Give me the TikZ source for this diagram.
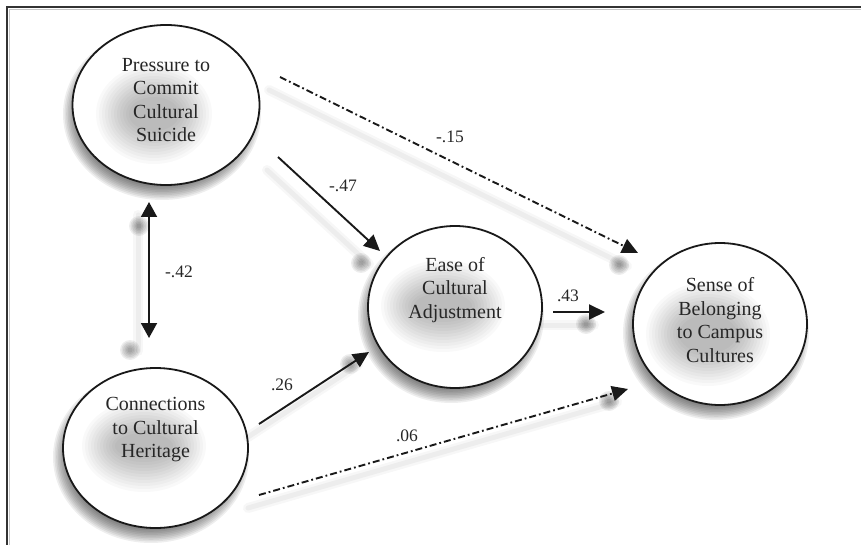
\documentclass[tikz,border=0pt]{standalone}
\usepackage{fontspec}
\setmainfont{Liberation Serif}
\usetikzlibrary{arrows.meta,shapes.geometric,calc}
\tikzset{
  ell/.style={draw=black!90, line width=1.8pt, fill=white, ellipse, inner sep=0pt},
  etext/.style={font=\fontsize{20}{23.5}\selectfont, align=center, text=black!85, inner sep=0pt},
  coef/.style={font=\fontsize{17.5}{20}\selectfont, text=black!85, inner sep=0pt},
  conn/.style={draw=black!90, line width=1.9pt, -{Triangle[length=16pt,width=15pt]}},
  biconn/.style={draw=black!90, line width=1.9pt, {Triangle[length=15pt,width=16pt]}-{Triangle[length=15pt,width=16pt]}},
  dashdot/.style={dash pattern=on 7pt off 3pt on 1.8pt off 3pt},
  lshadowA/.style={draw=black, line width=10pt, opacity=0.03, line cap=round, transform canvas={shift={(-11pt,-13pt)}}},
  lshadowB/.style={draw=black, line width=5pt, opacity=0.04, line cap=round, transform canvas={shift={(-11pt,-13pt)}}},
  frame/.style={draw=black!80, line width=2pt},
}
\newcommand\softell[4]{%
  \foreach \k in {0,...,9}{%
    \fill[black,opacity=0.065] (#1,#2) ellipse [x radius={(#3-1.6*\k)*1pt}, y radius={(#4-1.6*\k)*1pt}];}}
\newcommand\softblob[4]{%
  \foreach \k in {0,...,11}{%
    \fill[black,opacity=0.022] (#1,#2) ellipse [x radius={(#3-3*\k)*1pt}, y radius={(#4-3*\k)*1pt}];}}
\begin{document}
\begin{tikzpicture}[x=1pt,y=-1pt]
\path[use as bounding box] (0,0) rectangle (861,545);
% frame
\draw[gray!45, line width=1pt] (9,545) -- (9,9.5) -- (861,9.5);
\draw[frame] (7,545) -- (7,7) -- (861,7);

% ellipse drop shadows
\softell{162}{114}{99}{86}
\softell{451}{316}{93}{87}
\softell{716}{333}{93}{87}
\softell{151}{457}{98}{86}

% ellipses
\node[ell, minimum width=187pt, minimum height=160pt] (pres) at (166,105) {};
\node[ell, minimum width=174pt, minimum height=162pt] (ease) at (455,307) {};
\node[ell, minimum width=174pt, minimum height=162pt] (sense) at (720,324) {};
\node[ell, minimum width=185pt, minimum height=160pt] (conn) at (155.5,448) {};

% inner text shadows
\begin{scope}
\clip (166,105) ellipse [x radius=92pt, y radius=79pt];
\softblob{154}{114}{58}{50}
\end{scope}
\begin{scope}
\clip (455,307) ellipse [x radius=86pt, y radius=80pt];
\softblob{443}{306}{62}{46}
\end{scope}
\begin{scope}
\clip (720,324) ellipse [x radius=86pt, y radius=80pt];
\softblob{708}{334}{62}{52}
\end{scope}
\begin{scope}
\clip (155.5,448) ellipse [x radius=91pt, y radius=79pt];
\softblob{144}{446}{62}{46}
\end{scope}

% texts
\node[etext] (prest) at ([yshift=5pt]pres.center) {Pressure to\\Commit\\Cultural\\Suicide};
\node[etext] (easet) at ([yshift=17pt]ease.center) {Ease of\\Cultural\\Adjustment};
\node[etext] (senset) at ([yshift=4pt]sense.center) {Sense of\\Belonging\\to Campus\\Cultures};
\node[etext] (connt) at ([yshift=18pt]conn.center) {Connections\\to Cultural\\Heritage};

% connector end points
\coordinate (a1s) at (280,77);   \coordinate (a1e) at (638,253);
\coordinate (a2s) at (278,157);  \coordinate (a2e) at (380,251);
\coordinate (a3s) at (149,202);  \coordinate (a3e) at (149,338);
\coordinate (a4s) at (259,424);  \coordinate (a4e) at (369,352);
\coordinate (a5s) at (259,495);  \coordinate (a5e) at (628,389);
\coordinate (a6s) at (553,312);  \coordinate (a6e) at (605,312);

% connector shadows
\foreach \s/\e in {a1s/a1e, a2s/a2e, a3s/a3e, a4s/a4e, a5s/a5e, a6s/a6e}{
  \draw[lshadowA] (\s) -- (\e);
  \draw[lshadowB] (\s) -- (\e);
}
\foreach \t in {a1e, a2e, a4e, a5e, a6e, a3e}{
  \foreach \k in {0,...,5}{
    \fill[black, opacity=0.07] ($(\t)+(-19,12)$) circle [radius={(10-1.5*\k)*1pt}];
  }
}
\foreach \k in {0,...,5}{
  \fill[black, opacity=0.07] ($(a3s)+(-10,24)$) circle [radius={(10-1.5*\k)*1pt}];
}

% connectors
\draw[conn, dashdot] (a1s) -- (a1e);
\draw[conn] (a2s) -- (a2e);
\draw[biconn] (a3s) -- (a3e);
\draw[conn] (a4s) -- (a4e);
\draw[conn, dashdot] (a5s) -- (a5e);
\draw[conn] (a6s) -- (a6e);

% coefficients
\node[coef] (c1) at (450,137) {-.15};
\node[coef] (c2) at (343,186) {-.47};
\node[coef] (c3) at (179,272) {-.42};
\node[coef] (c4) at (282,385) {.26};
\node[coef] (c5) at (407,436) {.06};
\node[coef] (c6) at (568,296) {.43};
\end{tikzpicture}
\end{document}
